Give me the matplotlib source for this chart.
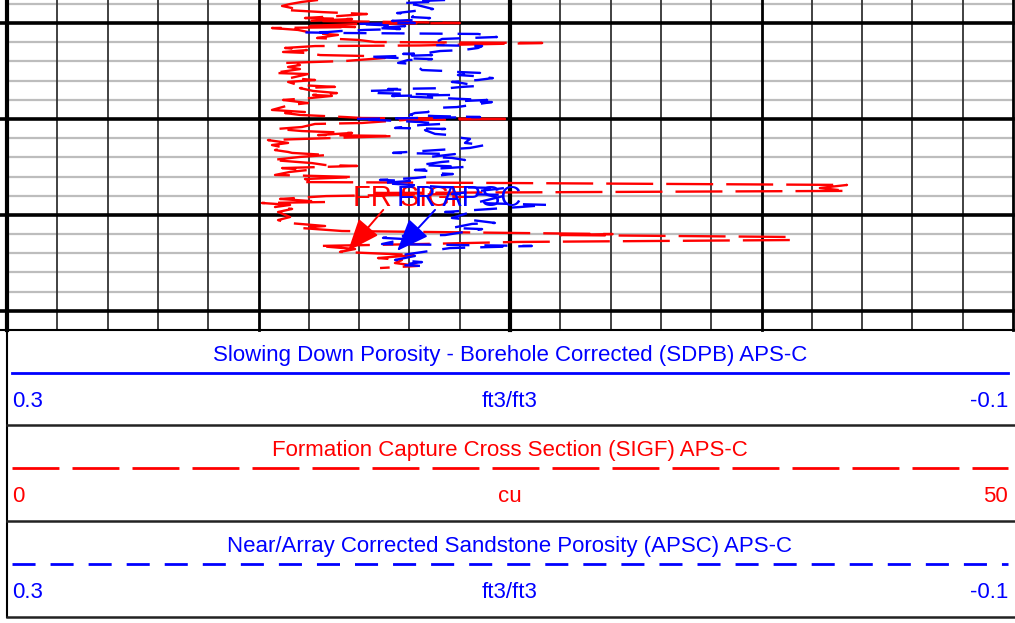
import numpy as np
import matplotlib
matplotlib.use('Agg')
import matplotlib.pyplot as plt
from matplotlib.pyplot import rcParams

rcParams['font.family'] = ['Liberation Sans', 'DejaVu Sans']
rcParams['lines.scale_dashes'] = False

BLUE = '#0000ff'
RED = '#ff0000'

# depth window (ft) and grid spacing
top_depth, base_depth = 1838.0, 2010.0
minor_step, major_step = 10, 50

# SIGF, formation capture cross section (cu)
sigf_depth = [1838.0, 1839.0, 1840.1, 1841.1, 1842.2, 1843.2, 1844.3, 1845.3, 1846.3, 1847.4,
              1847.9, 1848.9, 1849.5, 1850.0, 1850.5, 1851.6, 1852.1, 1852.6, 1853.6, 1855.2,
              1856.2, 1857.8, 1858.8, 1859.9, 1860.4, 1861.7, 1862.0, 1863.0, 1864.1, 1865.1,
              1865.6, 1866.7, 1867.2, 1868.2, 1869.8, 1870.8, 1871.9, 1872.9, 1874.0, 1875.0,
              1876.0, 1876.6, 1878.7, 1879.7, 1880.7, 1882.3, 1883.3, 1883.9, 1885.4, 1886.5,
              1887.5, 1888.0, 1889.1, 1890.1, 1891.7, 1892.7, 1895.3, 1896.4, 1896.9, 1897.9,
              1899.0, 1899.5, 1900.0, 1900.5, 1902.1, 1902.6, 1904.2, 1905.2, 1906.3, 1907.3,
              1908.4, 1908.9, 1911.0, 1912.5, 1913.6, 1915.1, 1916.2, 1917.2, 1917.7, 1918.8,
              1919.8, 1921.4, 1923.0, 1924.0, 1924.5, 1925.6, 1926.6, 1927.6, 1929.2, 1929.7,
              1930.3, 1931.3, 1932.3, 1932.9, 1933.4, 1934.4, 1936.0, 1937.5, 1938.6, 1939.1,
              1940.2, 1941.7, 1943.3, 1943.8, 1944.8, 1945.9, 1946.9, 1948.5, 1951.1, 1952.7,
              1954.2, 1955.8, 1956.8, 1958.4, 1959.4, 1960.0, 1960.5, 1961.5, 1963.1, 1964.1,
              1965.2, 1966.2, 1967.8, 1969.3, 1970.9, 1972.5, 1973.5, 1975.1, 1976.6, 1977.7]
sigf = [15.46, 14.66, 14.07, 13.67, 14.17, 13.82, 15.66, 17.89, 16.55, 14.81,
        17.15, 15.06, 19.78, 22.51, 17.54, 14.71, 17.30, 13.17, 14.46, 15.21,
        16.45, 15.41, 17.45, 18.29, 26.60, 20.53, 15.31, 13.82, 14.91, 13.72,
        14.91, 15.56, 17.89, 18.79, 16.80, 13.82, 14.56, 13.97, 14.56, 13.92,
        13.22, 14.96, 14.07, 15.31, 13.97, 14.46, 16.30, 14.56, 15.21, 16.40,
        15.21, 16.15, 15.06, 13.72, 14.96, 14.07, 13.17, 14.81, 13.82, 14.56,
        16.80, 17.64, 25.10, 19.78, 17.64, 15.31, 14.66, 13.42, 14.66, 17.15,
        15.46, 19.28, 12.97, 13.97, 13.17, 13.82, 13.32, 13.97, 14.17, 15.95,
        14.56, 13.17, 15.16, 15.81, 17.40, 13.67, 14.96, 14.07, 13.32, 15.31,
        17.30, 14.81, 15.21, 14.81, 25.00, 41.75, 40.40, 41.75, 17.99, 22.27,
        15.86, 13.57, 15.81, 12.67, 14.07, 13.32, 14.17, 13.47, 14.07, 13.47,
        13.97, 15.81, 14.56, 16.65, 25.00, 30.10, 27.50, 38.90, 39.10, 25.40,
        20.53, 15.46, 17.30, 16.55, 20.28, 18.44, 19.63, 19.28, 20.43, 18.54]

# APSC, near/array corrected sandstone porosity (ft3/ft3)
apsc_depth = [1838.0, 1838.5, 1839.0, 1839.6, 1840.6, 1842.7, 1843.2, 1844.8, 1845.8, 1846.9,
              1847.4, 1848.4, 1848.9, 1850.0, 1850.5, 1851.6, 1852.6, 1853.1, 1853.6, 1854.2,
              1854.7, 1854.9, 1855.2, 1855.7, 1857.3, 1858.3, 1861.5, 1862.0, 1863.0, 1864.1,
              1864.6, 1865.6, 1866.1, 1866.7, 1867.7, 1868.8, 1869.3, 1870.8, 1871.4, 1874.5,
              1875.0, 1875.5, 1876.0, 1877.1, 1877.6, 1878.7, 1879.7, 1880.7, 1881.3, 1882.8,
              1883.3, 1883.9, 1884.4, 1884.9, 1885.4, 1886.5, 1887.5, 1888.0, 1889.6, 1890.1,
              1890.6, 1891.2, 1893.8, 1894.3, 1896.4, 1896.9, 1897.9, 1898.5, 1899.0, 1900.0,
              1901.6, 1902.6, 1903.2, 1904.7, 1905.2, 1905.8, 1907.8, 1908.4, 1909.9, 1910.4,
              1912.5, 1913.6, 1915.1, 1917.7, 1918.3, 1919.8, 1920.3, 1921.4, 1922.4, 1924.0,
              1925.0, 1926.6, 1927.1, 1928.2, 1928.7, 1930.8, 1931.8, 1932.3, 1933.4, 1935.5,
              1936.0, 1939.1, 1939.6, 1943.8, 1944.8, 1945.9, 1948.5, 1949.0, 1951.6, 1952.7,
              1954.2, 1954.7, 1956.8, 1957.4, 1960.5, 1961.0, 1962.0, 1962.6, 1965.2, 1966.2,
              1967.3, 1970.9, 1971.4, 1973.5, 1974.6, 1976.1, 1976.6]
apsc = [0.1258, 0.1350, 0.1306, 0.1429, 0.1370, 0.1306, 0.1346, 0.1449, 0.1378, 0.1390,
        0.1318, 0.1386, 0.1469, 0.1378, 0.1616, 0.1417, 0.1537, 0.1437, 0.1577, 0.1676,
        0.1724, 0.1815, 0.1656, 0.1127, 0.1052, 0.1270, 0.1318, 0.1111, 0.1127, 0.1187,
        0.1278, 0.1330, 0.1425, 0.1310, 0.1569, 0.1310, 0.1406, 0.1445, 0.1378, 0.1350,
        0.1258, 0.1211, 0.1119, 0.1207, 0.1147, 0.1068, 0.1127, 0.1231, 0.1191, 0.1127,
        0.1191, 0.1239, 0.1485, 0.1417, 0.1569, 0.1525, 0.1231, 0.1469, 0.1187, 0.1091,
        0.1179, 0.1072, 0.1211, 0.1306, 0.1326, 0.1378, 0.1398, 0.1298, 0.1119, 0.1616,
        0.1358, 0.1270, 0.1358, 0.1457, 0.1258, 0.1338, 0.1298, 0.1239, 0.1191, 0.1159,
        0.1179, 0.1099, 0.1159, 0.1465, 0.1219, 0.1318, 0.1231, 0.1179, 0.1270, 0.1358,
        0.1179, 0.1378, 0.1326, 0.1310, 0.1227, 0.1378, 0.1517, 0.1398, 0.1509, 0.1270,
        0.1020, 0.1231, 0.1008, 0.1139, 0.0849, 0.0960, 0.1258, 0.1167, 0.1231, 0.1151,
        0.1060, 0.1151, 0.1231, 0.1111, 0.1258, 0.1445, 0.1505, 0.1417, 0.1509, 0.0913,
        0.1239, 0.1429, 0.1378, 0.1457, 0.1350, 0.1441, 0.1358]

# flags: label, (tail value, tail depth), (tip value, tip depth)
sigf_flag = ('FR SIGF', (18.7, 1947.4), (16.95, 1968.8))
apsc_flag = ('FR APSC', (0.1298, 1947.4), (0.1449, 1968.8))

# header: scales shown under the track
curve_titles = ['Slowing Down Porosity - Borehole Corrected (SDPB) APS-C',
                'Formation Capture Cross Section (SIGF) APS-C',
                'Near/Array Corrected Sandstone Porosity (APSC) APS-C']
curve_units = ['ft3/ft3', 'cu', 'ft3/ft3']
scale_left = ['0.3', '0', '0.3']
scale_right = ['-0.1', '50', '-0.1']
curve_colors = [BLUE, RED, BLUE]

red_dash = (0, (33.8, 9.4))
blue_dash = (0, (16.6, 10.8))
curve_styles = ['-', red_dash, blue_dash]

W, H = 1015, 623
TRACK_H = 330
fig = plt.figure(figsize=(W / 100, H / 100), dpi=100)

# ---- log track ----
ax = fig.add_axes([7 / W, (H - TRACK_H) / H, 1006 / W, TRACK_H / H])
ax.set_xlim(0, 50)
ax.set_ylim(base_depth, top_depth)
ax2 = ax.twiny()
ax2.set_xlim(0.3, -0.1)
for a in (ax, ax2):
    a.set_xticks([])
    a.set_yticks([])
    for s in a.spines.values():
        s.set_visible(False)

# vertical grid: 20 divisions across the track
for i, s in enumerate(np.arange(0, 50.01, 2.5)):
    if i in (0, 10):
        lw, c = 3.0, 'black'
    elif i in (5, 15, 20):
        lw, c = 2.0, 'black'
    else:
        lw, c = 1.3, '#333333'
    ax.axvline(s, color=c, lw=lw, zorder=1, clip_on=False)

# depth grid: light every 10 ft, heavy every 50 ft
for d in np.arange(1840, base_depth, minor_step):
    if d % major_step == 0:
        ax.axhline(d, xmin=-7 / 1006, xmax=1, color='black', lw=2.6, zorder=1.5, clip_on=False)
    else:
        ax.axhline(d, color='#bdbdbd', lw=1.6, zorder=0.5)

ax.plot(sigf, sigf_depth, color=RED, lw=1.7, ls=red_dash, zorder=3)
ax2.plot(apsc, apsc_depth, color=BLUE, lw=1.7, ls=blue_dash, zorder=4)

arrow_kw = dict(arrowstyle='-|>,head_length=1.0,head_width=0.4', lw=1.4,
                mutation_scale=20, shrinkA=0, shrinkB=0)
label, tail, tip = sigf_flag
ax.annotate('', xy=tip, xytext=tail, arrowprops=dict(color=RED, **arrow_kw), zorder=5)
ax.text(tail[0] - 1.5, tail[1] - 1.8, label, color=RED, fontsize=21, ha='left', va='baseline', zorder=5)
label, tail, tip = apsc_flag
ax2.annotate('', xy=tip, xytext=tail, arrowprops=dict(color=BLUE, **arrow_kw), zorder=6)
ax2.text(tip[0], tail[1] - 1.8, label, color=BLUE, fontsize=21, ha='left', va='baseline', zorder=6)

# ---- header, laid out in pixel units below the track ----
hx = fig.add_axes([0, 0, 1, (H - TRACK_H) / H])
hx.set_xlim(0, W)
hx.set_ylim(H, TRACK_H)
hx.axis('off')

hx.plot([0, W], [TRACK_H, TRACK_H], color='black', lw=1.5, clip_on=False)
hx.plot([7, 7], [TRACK_H, 617], color='black', lw=1.5)
box_tops = [330, 425, 521]
for k, top in enumerate(box_tops):
    c = curve_colors[k]
    if k > 0:
        hx.plot([7, W], [top, top], color='#222222', lw=1.8)
    hx.text(510, top + 31, curve_titles[k], color=c, fontsize=16, ha='center', va='baseline')
    hx.plot([12, 1008], [top + 43, top + 43], color=c, lw=2.0, ls=curve_styles[k])
    hx.text(12, top + 77, scale_left[k], color=c, fontsize=16, ha='left', va='baseline')
    hx.text(510, top + 77, curve_units[k], color=c, fontsize=16, ha='center', va='baseline')
    hx.text(1008, top + 77, scale_right[k], color=c, fontsize=16, ha='right', va='baseline')
hx.plot([7, W], [617, 617], color='#222222', lw=1.8)

fig.savefig('out.png', dpi=100)
